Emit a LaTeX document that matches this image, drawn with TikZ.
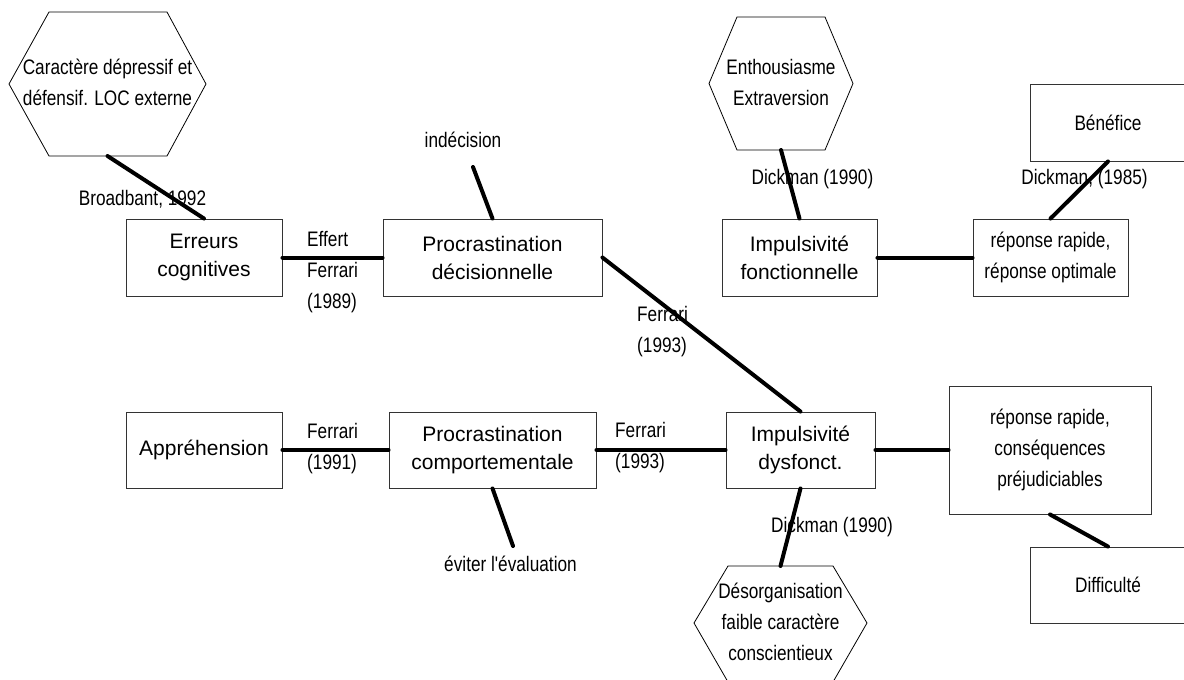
\documentclass[tikz,border=0pt]{standalone}
\usepackage{fontspec}
\setmainfont{Liberation Sans}
\newfontfamily\narrowfont[FakeStretch=0.82]{Liberation Sans}
\usetikzlibrary{calc}
\begin{document}
\begin{tikzpicture}[x=1pt,y=-1pt,
  box/.style={draw=black!80,line width=0.9pt,inner sep=0pt,align=center,font=\fontsize{21}{28}\selectfont},
  nbox/.style={box,font=\narrowfont\fontsize{21}{31}\selectfont},
  lbl/.style={inner sep=0pt,align=center,font=\narrowfont\fontsize{21}{31}\selectfont},
  lbll/.style={lbl,align=left,anchor=west},
  link/.style={line width=4pt,line cap=round},
  hexline/.style={draw=black,line width=0.8pt}]
\useasboundingbox (0,0) rectangle (1184,680);

% ---- boxes, top row
\node[box,minimum width=156pt,minimum height=77pt] (err) at (204,257.5) {Erreurs\\cognitives};
\node[box,minimum width=219pt,minimum height=77pt] (pd) at (492.5,257.5) {Procrastination\\décisionnelle};
\node[box,minimum width=155pt,minimum height=77pt] (ifn) at (799.5,257.5) {Impulsivité\\fonctionnelle};
\node[nbox,minimum width=155pt,minimum height=77pt] (rro) at (1050.5,257.5) {réponse rapide,\\réponse optimale};
\node[nbox,minimum width=156pt,minimum height=77pt] (ben) at (1108,122.5) {Bénéfice};

% ---- boxes, bottom row
\node[box,minimum width=156pt,minimum height=76pt] (app) at (204,450) {Appréhension};
\node[box,minimum width=207pt,minimum height=76pt] (pc) at (492.5,450) {Procrastination\\comportementale};
\node[box,minimum width=149pt,minimum height=76pt] (idy) at (800.5,450) {Impulsivité\\dysfonct.};
\node[nbox,minimum width=202pt,minimum height=128pt] (rrc) at (1050,450) {réponse rapide,\\conséquences\\préjudiciables};
\node[nbox,minimum width=156pt,minimum height=76pt] (dif) at (1108,585) {Difficulté};

% ---- hexagons
\node[lbl] (h1) at (107.5,82.5) {Caractère dépressif et\\défensif. LOC externe};
\draw[hexline] (49,12) -- (167,12) -- (206,84) -- (167,156) -- (49,156) -- (9,84) -- cycle;
\coordinate (h1b) at (107.5,156);

\node[lbl] (h2) at (781,82) {Enthousiasme\\Extraversion};
\draw[hexline] (737,17) -- (825,17) -- (853,83.5) -- (825,150) -- (737,150) -- (709,83.5) -- cycle;
\coordinate (h2b) at (781,150);

\node[lbl] (h3) at (780.5,622) {Désorganisation\\faible caractère\\conscientieux};
\draw[hexline] (728,682) -- (694,623) -- (728,566) -- (833,566) -- (867,623) -- (833,682);
\coordinate (h3t) at (780.5,566);

% ---- free labels
\node[lbl] (indec) at (463,140) {indécision};
\coordinate (indecEnd) at (473,167);
\node[lbl] (evit) at (510.5,564) {éviter l'évaluation};
\coordinate (evitEnd) at (513,546);

% ---- connectors
\draw[link] (h1b) -- (err.north);
\draw[link] (err.east) -- (pd.west);
\draw[link] (indecEnd) -- (pd.north);
\draw[link] (h2b) -- (ifn.north);
\draw[link] (ifn.east) -- (rro.west);
\draw[link] (ben.south) -- (rro.north);
\draw[link] (pd.east) -- (idy.north);
\draw[link] (app.east) -- (pc.west);
\draw[link] (pc.south) -- (evitEnd);
\draw[link] (pc.east) -- (idy.west);
\draw[link] (idy.south) -- (h3t);
\draw[link] (idy.east) -- (rrc.west);
\draw[link] (rrc.south) -- (dif.north);

% ---- connector labels
\node[lbl] (lbroad) at (142.5,199) {Broadbant, 1992};
\node[lbll] (leff) at (307,272) {Effert\\Ferrari\\(1989)};
\node[lbl] (ldick1) at (812.5,179) {Dickman (1990)};
\node[lbl] (ldick2) at (1084.5,179) {Dickman, (1985)};
\node[lbll] (lfer93a) at (637,332) {Ferrari\\(1993)};
\node[lbll] (lfer91) at (307,449) {Ferrari\\(1991)};
\node[lbll] (lfer93b) at (615,448) {Ferrari\\(1993)};
\node[lbl] (ldick3) at (832,527) {Dickman (1990)};
\end{tikzpicture}
\end{document}
